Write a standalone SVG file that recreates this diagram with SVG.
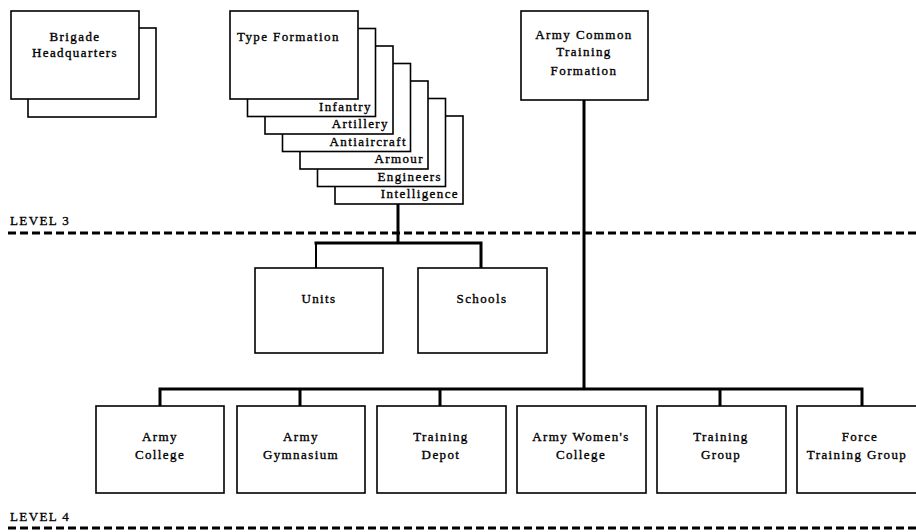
<svg xmlns="http://www.w3.org/2000/svg" width="916" height="532" viewBox="0 0 916 532">
  <style>
    .box { fill: #fff; stroke: #000; stroke-width: 1.6; }
    .lbl { font-family: "Liberation Serif", "Times New Roman", serif; font-size: 13px; letter-spacing: 1.4px; fill: #000; stroke: #000; stroke-width: 0.35; }
    .mid { text-anchor: middle; }
    .end { text-anchor: end; }
    .conn { fill: none; stroke: #000; stroke-width: 3; }
    .level { fill: none; stroke: #000; stroke-width: 3; stroke-dasharray: 8 4; }
  </style>
  <rect width="916" height="532" fill="#fff"/>

  <!-- level separators -->
  <g id="levels">
    <text class="lbl" x="10" y="225">LEVEL 3</text>
    <line class="level" x1="8" y1="233" x2="916" y2="233"/>
    <text class="lbl" x="10" y="521">LEVEL 4</text>
    <line class="level" x1="8" y1="528" x2="916" y2="528"/>
  </g>

  <!-- connectors -->
  <g id="connectors">
    <path class="conn" d="M398,204 V243 M314.5,243 H482.5 M481,243 V268"/>
    <path class="conn" style="stroke-width:2" d="M316,243 V268"/>
    <path class="conn" d="M584,100 V389 M158.5,389 H863.5 M160,389 V406 M300,389 V406 M440,389 V406 M720,389 V406 M862,389 V406"/>
  </g>

  <g id="brigade-hq">
    <rect class="box" x="28" y="28" width="128" height="89"/>
    <rect class="box" x="11" y="11" width="128" height="88"/>
    <text class="lbl mid" x="75" y="41">Brigade</text>
    <text class="lbl mid" x="75" y="57">Headquarters</text>
  </g>

  <g id="type-formation">
    <rect class="box" x="335" y="116" width="128" height="88"/>
    <text class="lbl end" x="459" y="198">Intelligence</text>
    <rect class="box" x="317.5" y="98.5" width="128" height="88"/>
    <text class="lbl end" x="442" y="181">Engineers</text>
    <rect class="box" x="300" y="81" width="128" height="88"/>
    <text class="lbl end" x="424" y="163">Armour</text>
    <rect class="box" x="282.5" y="63.5" width="128" height="88"/>
    <text class="lbl end" x="407" y="146">Antiaircraft</text>
    <rect class="box" x="265" y="46" width="128" height="88"/>
    <text class="lbl end" x="389" y="128">Artillery</text>
    <rect class="box" x="247.5" y="28.5" width="128" height="88"/>
    <text class="lbl end" x="372" y="111">Infantry</text>
    <rect class="box" x="230" y="11" width="128" height="88"/>
    <text class="lbl" x="237" y="41">Type Formation</text>
  </g>

  <g id="army-common-training">
    <rect class="box" x="521" y="11" width="127" height="89"/>
    <text class="lbl mid" x="584" y="39">Army Common</text>
    <text class="lbl mid" x="584" y="56">Training</text>
    <text class="lbl mid" x="584" y="75">Formation</text>
  </g>

  <g id="units">
    <rect class="box" x="255" y="268" width="128" height="85"/>
    <text class="lbl mid" x="319" y="303">Units</text>
  </g>
  <g id="schools">
    <rect class="box" x="418" y="268" width="129" height="85"/>
    <text class="lbl mid" x="482" y="303">Schools</text>
  </g>

  <g id="army-college">
    <rect class="box" x="96" y="406" width="128" height="87"/>
    <text class="lbl mid" x="160" y="441">Army</text>
    <text class="lbl mid" x="160" y="459">College</text>
  </g>
  <g id="army-gymnasium">
    <rect class="box" x="237" y="406" width="128" height="87"/>
    <text class="lbl mid" x="301" y="441">Army</text>
    <text class="lbl mid" x="301" y="459">Gymnasium</text>
  </g>
  <g id="training-depot">
    <rect class="box" x="377" y="406" width="129" height="87"/>
    <text class="lbl mid" x="441" y="441">Training</text>
    <text class="lbl mid" x="441" y="459">Depot</text>
  </g>
  <g id="army-womens-college">
    <rect class="box" x="517" y="406" width="129" height="87"/>
    <text class="lbl mid" x="581" y="441">Army Women's</text>
    <text class="lbl mid" x="581" y="459">College</text>
  </g>
  <g id="training-group">
    <rect class="box" x="657" y="406" width="129" height="87"/>
    <text class="lbl mid" x="721" y="441">Training</text>
    <text class="lbl mid" x="721" y="459">Group</text>
  </g>
  <g id="force-training-group">
    <rect class="box" x="797" y="406" width="129" height="87"/>
    <text class="lbl mid" x="860" y="441">Force</text>
    <text class="lbl mid" x="857" y="459">Training Group</text>
  </g>
</svg>
